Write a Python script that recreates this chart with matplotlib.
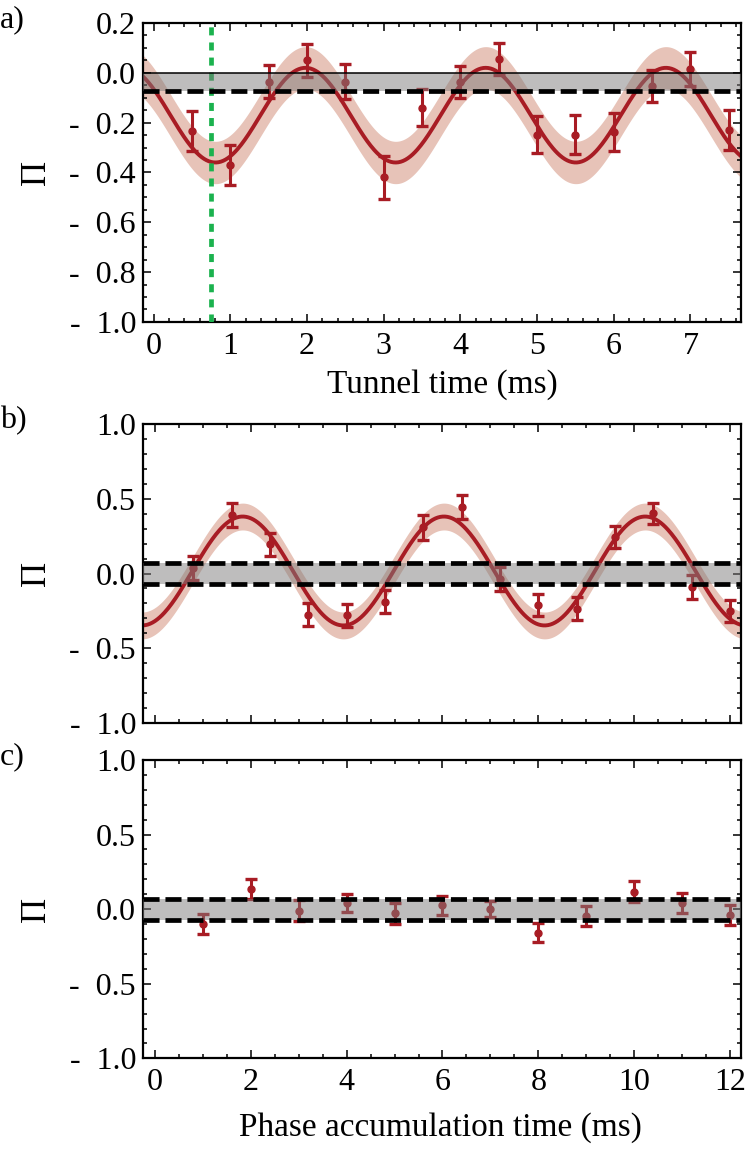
import numpy as np
import matplotlib.pyplot as plt
from matplotlib.ticker import MultipleLocator, FuncFormatter

plt.rcParams['font.family'] = ['Liberation Serif', 'DejaVu Serif']

# === (a) tunnelling: data ===
t_a = [0.5, 1.0, 1.5, 2.0, 2.5, 3.0, 3.5, 4.0, 4.5, 5.0, 5.5, 6.0, 6.5, 7.0, 7.5]
pi_a = [-0.235, -0.37, -0.035, 0.05, -0.035, -0.42, -0.14, -0.037, 0.055,
        -0.248, -0.248, -0.238, -0.053, 0.014, -0.23]
err_a = [0.08, 0.08, 0.068, 0.065, 0.07, 0.085, 0.075, 0.063, 0.065,
         0.075, 0.077, 0.075, 0.065, 0.068, 0.08]

# fitted sinusoid for (a), parameters
off_a, amp_a, per_a, peak_a = -0.17, 0.19, 2.35, 1.98
unc_a = 0.085          # half width of the shaded fit band
noise_a = -0.072       # lower edge of grey noise band (upper edge is 0)
t_green = 0.75         # dotted marker line

# === (b) phase accumulation with tunnelling ===
t_b = [0.8, 1.6, 2.4, 3.2, 4.0, 4.8, 5.6, 6.4, 7.2, 8.0, 8.8, 9.6, 10.4, 11.2, 12.0]
pi_b = [0.035, 0.39, 0.195, -0.275, -0.28, -0.19, 0.31, 0.445, -0.035,
        -0.213, -0.235, 0.245, 0.405, -0.09, -0.25]
err_b = [0.08, 0.08, 0.078, 0.078, 0.077, 0.077, 0.085, 0.078, 0.08,
         0.075, 0.077, 0.075, 0.07, 0.078, 0.075]

off_b, amp_b, per_b, peak_b = 0.017, 0.365, 4.2, 1.83
unc_b = 0.09
noise_b = 0.072

# === (c) phase accumulation, no oscillation ===
t_c = [1, 2, 3, 4, 5, 6, 7, 8, 9, 10, 11, 12]
pi_c = [-0.10, 0.134, -0.012, 0.04, -0.028, 0.027, 0.002, -0.158, -0.046,
        0.118, 0.04, -0.04]
err_c = [0.066, 0.067, 0.07, 0.062, 0.07, 0.063, 0.055, 0.065, 0.07,
         0.07, 0.067, 0.067]
noise_c = 0.07

# === style ===
red = '#a81c24'
salmon = '#e7c3b8'
grey = '#7f7c7c'
green = '#1bb24e'
fs = 23


def minus_fmt(v, pos):
    if v < -1e-9:
        return '-  %.1f' % abs(v)
    return '%.1f' % abs(v)


def style(ax, xmaj, xmin, ymaj, ymin):
    ax.xaxis.set_major_locator(MultipleLocator(xmaj))
    ax.xaxis.set_minor_locator(MultipleLocator(xmin))
    ax.yaxis.set_major_locator(MultipleLocator(ymaj))
    ax.yaxis.set_minor_locator(MultipleLocator(ymin))
    ax.yaxis.set_major_formatter(FuncFormatter(minus_fmt))
    ax.tick_params(which='both', direction='in', top=True, right=True,
                   labelsize=fs, width=1.1)
    ax.tick_params(which='major', length=5.5)
    ax.tick_params(which='minor', length=3)
    ax.tick_params(axis='x', pad=7)
    ax.tick_params(axis='y', pad=5)
    for s in ax.spines.values():
        s.set_linewidth(1.6)


def fit_curve(ax, xlim, off, amp, per, peak, unc):
    tt = np.linspace(xlim[0], xlim[1], 500)
    yy = off + amp * np.cos(2 * np.pi * (tt - peak) / per)
    ax.fill_between(tt, yy - unc, yy + unc, color=salmon, lw=0, zorder=1)
    ax.plot(tt, yy, color=red, lw=2.8, zorder=2)


def points(ax, t, y, e):
    ax.errorbar(t, y, yerr=e, fmt='o', color=red, ms=5, elinewidth=2.2,
                capsize=4, capthick=2.4, zorder=3)


dash = (0, (3.4, 1.25))

fig = plt.figure(figsize=(7.47, 11.49), dpi=100)
axa = fig.add_axes([0.1914, 0.7198, 0.8006, 0.2602])
axb = fig.add_axes([0.1914, 0.3710, 0.8006, 0.2597])
axc = fig.add_axes([0.1914, 0.0789, 0.8006, 0.2597])

# --- panel a ---
xl_a = (-0.14, 7.66)
fit_curve(axa, xl_a, off_a, amp_a, per_a, peak_a, unc_a)
points(axa, t_a, pi_a, err_a)
axa.axvline(t_green, color=green, lw=3.4, ls=(0, (1.7, 1.5)), zorder=3)
axa.axhspan(noise_a, 0, color=grey, alpha=0.5, lw=0, zorder=4)
axa.axhline(0, color='black', lw=1.1, zorder=5)
axa.axhline(noise_a, color='black', lw=3.4, ls=dash, zorder=5)
axa.set_xlim(*xl_a)
axa.set_ylim(-1.0, 0.2)
style(axa, 1, 0.2, 0.2, 0.05)

# --- panel b ---
xl_bc = (-0.25, 12.23)
fit_curve(axb, xl_bc, off_b, amp_b, per_b, peak_b, unc_b)
points(axb, t_b, pi_b, err_b)
axb.axhspan(-noise_b, noise_b, color=grey, alpha=0.5, lw=0, zorder=4)
for yv in (-noise_b, noise_b):
    axb.axhline(yv, color='black', lw=3.4, ls=dash, zorder=5)
axb.set_xlim(*xl_bc)
axb.set_ylim(-1.0, 1.0)
style(axb, 2, 0.5, 0.5, 0.1)
axb.tick_params(axis='x', labelbottom=False)

# --- panel c ---
points(axc, t_c, pi_c, err_c)
axc.axhspan(-noise_c, noise_c, color=grey, alpha=0.5, lw=0, zorder=4)
for yv in (-noise_c, noise_c):
    axc.axhline(yv, color='black', lw=3.4, ls=dash, zorder=5)
axc.set_xlim(*xl_bc)
axc.set_ylim(-1.0, 1.0)
style(axc, 2, 0.5, 0.5, 0.1)
axc.xaxis.set_major_formatter(FuncFormatter(lambda v, p: '%d' % round(v)))

# --- labels ---
for ax, lab in ((axa, 'a)'), (axb, 'b)'), (axc, 'c)')):
    pos = ax.get_position()
    fig.text(0.0, pos.y1 + 0.003, lab, fontsize=fs, ha='left', va='center')
    fig.text(0.049, (pos.y0 + pos.y1) / 2, 'Π', fontsize=fs + 2,
             rotation=90, ha='center', va='center')

fig.text(0.592, 1 - 385 / 1149, 'Tunnel time (ms)', fontsize=fs + 1,
         ha='center', va='center')
fig.text(0.590, 1 - 1128 / 1149, 'Phase accumulation time (ms)',
         fontsize=fs + 1, ha='center', va='center')

fig.savefig('out.png', dpi=100)
